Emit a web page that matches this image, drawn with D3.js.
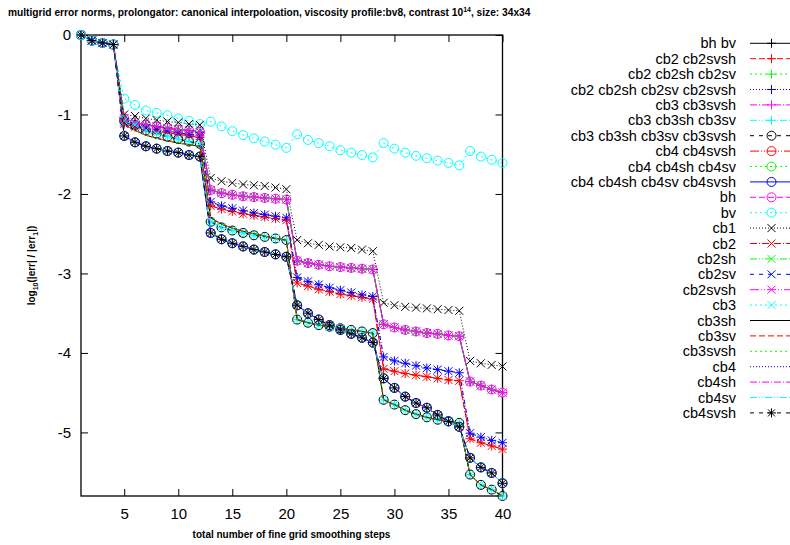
<!DOCTYPE html>
<html>
<head>
<meta charset="utf-8">
<script src="https://cdn.jsdelivr.net/npm/d3@7"></script>
<style>
body { margin: 0; background: #fff; }
text { font-family: "Liberation Sans", Arial, sans-serif; fill: #000; }
</style>
</head>
<body>
<svg id="chart" width="790" height="545"></svg>
<script>
// x values: total number of fine grid smoothing steps
var steps = [1,2,3,4,5,6,7,8,9,10,11,12,13,14,15,16,17,18,19,20,
             21,22,23,24,25,26,27,28,29,30,31,32,33,34,35,36,37,38,39,40];

// curves (log10 of error ratio)
var bvVals = [0,-0.07,-0.10,-0.12, -0.80,-0.88,-0.95,-0.98,-1.01,-1.05,-1.08,-1.12,
  -1.09,-1.15,-1.21,-1.26,-1.30,-1.34,-1.38,-1.42, -1.25,-1.32,-1.36,-1.40,-1.45,-1.48,-1.51,-1.54,
  -1.36,-1.43,-1.48,-1.52,-1.55,-1.58,-1.61,-1.64, -1.46,-1.53,-1.57,-1.61];
var cb1Vals = [0,-0.07,-0.10,-0.12, -1.00,-1.02,-1.05,-1.07,-1.09,-1.10,-1.12,-1.13,
  -1.80,-1.84,-1.86,-1.88,-1.89,-1.90,-1.92,-1.94, -2.58,-2.62,-2.64,-2.66,-2.67,-2.68,-2.70,-2.72,
  -3.37,-3.40,-3.42,-3.43,-3.44,-3.45,-3.46,-3.47, -4.10,-4.13,-4.15,-4.17];
var groupB = [0,-0.07,-0.10,-0.12, -1.05,-1.10,-1.13,-1.15,-1.17,-1.19,-1.20,-1.22,
  -1.95,-1.99,-2.01,-2.03,-2.04,-2.05,-2.06,-2.07, -2.84,-2.87,-2.89,-2.91,-2.92,-2.93,-2.94,-2.95,
  -3.64,-3.68,-3.71,-3.73,-3.75,-3.76,-3.78,-3.79, -4.36,-4.41,-4.46,-4.50];
var groupC1 = [0,-0.07,-0.10,-0.12, -1.10,-1.14,-1.17,-1.19,-1.21,-1.23,-1.25,-1.27,
  -2.10,-2.15,-2.18,-2.21,-2.24,-2.26,-2.28,-2.30, -3.05,-3.10,-3.14,-3.18,-3.21,-3.24,-3.27,-3.29,
  -4.05,-4.10,-4.13,-4.16,-4.19,-4.21,-4.23,-4.25, -5.01,-5.06,-5.10,-5.13];
var groupC2 = [0,-0.07,-0.10,-0.12, -1.12,-1.16,-1.19,-1.21,-1.23,-1.25,-1.27,-1.29,
  -2.15,-2.19,-2.22,-2.25,-2.27,-2.29,-2.31,-2.33, -3.12,-3.16,-3.20,-3.23,-3.26,-3.28,-3.30,-3.32,
  -4.20,-4.23,-4.26,-4.28,-4.30,-4.32,-4.34,-4.35, -5.08,-5.13,-5.17,-5.21];
var groupD = [0,-0.07,-0.10,-0.12, -1.08,-1.13,-1.20,-1.24,-1.28,-1.31,-1.34,-1.37,
  -2.35,-2.42,-2.46,-2.49,-2.52,-2.54,-2.56,-2.58, -3.58,-3.62,-3.65,-3.67,-3.69,-3.71,-3.73,-3.75,
  -4.59,-4.65,-4.72,-4.77,-4.81,-4.84,-4.86,-4.88, -5.53,-5.66,-5.72,-5.80];
var groupDline = [0,-0.07,-0.10,-0.12, -1.13,-1.20,-1.26,-1.30,-1.33,-1.36,-1.38,-1.40,
  -2.30,-2.38,-2.43,-2.47,-2.50,-2.53,-2.56,-2.58, -3.58,-3.62,-3.65,-3.67,-3.69,-3.71,-3.73,-3.75,
  -4.59,-4.65,-4.72,-4.77,-4.81,-4.84,-4.86,-4.88, -5.53,-5.66,-5.72,-5.80];
var groupE = [0,-0.07,-0.10,-0.12, -1.27,-1.35,-1.40,-1.43,-1.46,-1.48,-1.51,-1.53,
  -2.49,-2.57,-2.62,-2.66,-2.70,-2.73,-2.76,-2.79, -3.40,-3.50,-3.58,-3.65,-3.71,-3.76,-3.81,-3.87,
  -4.32,-4.44,-4.55,-4.63,-4.69,-4.78,-4.86,-4.93, -5.32,-5.44,-5.51,-5.64];

var seriesNames = ["bh bv", "cb2 cb2svsh", "cb2 cb2sh cb2sv", "cb2 cb2sh cb2sv cb2svsh",
  "cb3 cb3svsh", "cb3 cb3sh cb3sv", "cb3 cb3sh cb3sv cb3svsh", "cb4 cb4svsh",
  "cb4 cb4sh cb4sv", "cb4 cb4sh cb4sv cb4svsh", "bh", "bv", "cb1", "cb2", "cb2sh",
  "cb2sv", "cb2svsh", "cb3", "cb3sh", "cb3sv", "cb3svsh", "cb4", "cb4sh", "cb4sv", "cb4svsh"];
var seriesValues = [groupB, groupC2, groupB, groupC1, groupB, groupD, groupD, groupE,
  groupE, groupE, groupB, bvVals, cb1Vals, groupC2, groupB, groupC1, groupB, groupD,
  groupDline, groupDline, groupDline, groupE, groupE, groupE, groupE];

var yTicks = [0, -1, -2, -3, -4, -5];
var xTicks = [5, 10, 15, 20, 25, 30, 35, 40];

// gnuplot-like style cycles
var colors = ["#000000", "#ff0000", "#00ff00", "#0000ff", "#ff00ff", "#00ffff"];
var dashes = [null, "6,3", "2,3", "1,2", "7,2,1,2", "7,2,1,2,1,2", "4,5", "9,2,1,2,1,2", "2,3"];
function markerOf(i) {
  if (i < 6) return "plus";
  if (i < 12) return "circle";
  if (i < 18) return "cross";
  if (i < 24) return null;
  return "star";
}

var svg = d3.select("#chart");
var margin = { left: 81, right: 287.5, top: 35, bottom: 49 };
var width = 790 - margin.left - margin.right,
    height = 545 - margin.top - margin.bottom;

var x = d3.scaleLinear().domain([1, 40]).range([margin.left, margin.left + width]);
var y = d3.scaleLinear().domain([-5.8, 0]).range([margin.top + height, margin.top]);

// Title
var title = svg.append("text")
    .attr("x", 8).attr("y", 16)
    .attr("font-size", "10.2px").attr("font-weight", "bold");
title.append("tspan").text("multigrid error norms, prolongator: canonical interpoloation, viscosity profile:bv8, contrast 10");
title.append("tspan").attr("dy", -4).attr("font-size", "7px").text("14");
title.append("tspan").attr("dy", 4).text(", size: 34x34");

// Axes
var fmt = function(d) { return String(d); };
var xAxisCall = d3.axisBottom(x).tickValues(xTicks).tickSize(-7).tickPadding(12).tickFormat(fmt);
var gx = svg.append("g")
    .attr("transform", "translate(0," + (margin.top + height) + ")")
    .call(xAxisCall);
var xTopCall = d3.axisTop(x).tickValues(xTicks).tickSize(-7).tickFormat("");
var gxt = svg.append("g")
    .attr("transform", "translate(0," + margin.top + ")")
    .call(xTopCall);
var yAxisCall = d3.axisLeft(y).tickValues(yTicks).tickSize(-7).tickPadding(10).tickFormat(fmt);
var gy = svg.append("g")
    .attr("transform", "translate(" + margin.left + ",0)")
    .call(yAxisCall);
var yRightCall = d3.axisRight(y).tickValues(yTicks).tickSize(-7).tickFormat("");
var gyr = svg.append("g")
    .attr("transform", "translate(" + (margin.left + width) + ",0)")
    .call(yRightCall);
[gx, gxt, gy, gyr].forEach(function(g) {
  g.select(".domain").remove();
  g.selectAll(".tick line").attr("stroke", "#000");
  g.selectAll(".tick text").attr("font-size", "15px").attr("fill", "#000")
    .attr("font-family", "'Liberation Sans', Arial, sans-serif");
});

// frame
svg.append("rect")
    .attr("x", margin.left).attr("y", margin.top)
    .attr("width", width).attr("height", height)
    .attr("fill", "none").attr("stroke", "#000").attr("stroke-width", 1.3);

// axis labels
var yl = svg.append("text")
    .attr("transform", "translate(35," + (margin.top + height / 2) + ") rotate(-90)")
    .attr("text-anchor", "middle").attr("font-size", "10px").attr("font-weight", "bold");
yl.append("tspan").text("log");
yl.append("tspan").attr("dy", 3).attr("font-size", "7px").text("10");
yl.append("tspan").attr("dy", -3).text("(|err| / |err");
yl.append("tspan").attr("dy", 3).attr("font-size", "7px").text("1");
yl.append("tspan").attr("dy", -3).text("|)");

svg.append("text")
    .attr("x", 291.5).attr("y", 538)
    .attr("text-anchor", "middle").attr("font-size", "10px").attr("font-weight", "bold")
    .text("total number of fine grid smoothing steps");

function drawMarker(g, type, cx, cy, color) {
  var s = 4.5;
  if (type === "plus" || type === "star") {
    g.append("path").attr("d", "M" + (cx - s) + "," + cy + "H" + (cx + s) + "M" + cx + "," + (cy - s) + "V" + (cy + s))
      .attr("stroke", color).attr("stroke-width", 1).attr("fill", "none");
  }
  if (type === "cross" || type === "star") {
    var t = type === "star" ? 3.5 : 4;
    g.append("path").attr("d", "M" + (cx - t) + "," + (cy - t) + "L" + (cx + t) + "," + (cy + t) +
        "M" + (cx - t) + "," + (cy + t) + "L" + (cx + t) + "," + (cy - t))
      .attr("stroke", color).attr("stroke-width", 1).attr("fill", "none");
  }
  if (type === "circle") {
    g.append("circle").attr("cx", cx).attr("cy", cy).attr("r", 4.5)
      .attr("stroke", color).attr("stroke-width", 1).attr("fill", "none");
  }
}

var line = d3.line()
    .x(function(d, i) { return x(steps[i]); })
    .y(function(d) { return y(d); });

var plot = svg.append("g");
seriesValues.forEach(function(vals, i) {
  var color = colors[i % 6], dash = dashes[i % 9], mk = markerOf(i);
  var g = plot.append("g");
  g.append("path")
      .attr("d", line(vals))
      .attr("fill", "none")
      .attr("stroke", color)
      .attr("stroke-width", 1)
      .attr("stroke-dasharray", dash);
  if (mk) {
    vals.forEach(function(v, j) { drawMarker(g, mk, x(steps[j]), y(v), color); });
  }
});

// legend
var legend = svg.append("g");
seriesNames.forEach(function(name, i) {
  var ly = 43.3 + i * 15.4;
  var color = colors[i % 6], dash = dashes[i % 9], mk = markerOf(i);
  legend.append("text")
      .attr("x", 736).attr("y", ly).attr("dy", "0.35em")
      .attr("text-anchor", "end").attr("font-size", "14.5px")
      .text(name);
  legend.append("line")
      .attr("x1", 750).attr("x2", 794).attr("y1", ly).attr("y2", ly)
      .attr("stroke", color).attr("stroke-width", 1)
      .attr("stroke-dasharray", dash);
  if (mk) drawMarker(legend, mk, 771.5, ly, color);
});
</script>
</body>
</html>
